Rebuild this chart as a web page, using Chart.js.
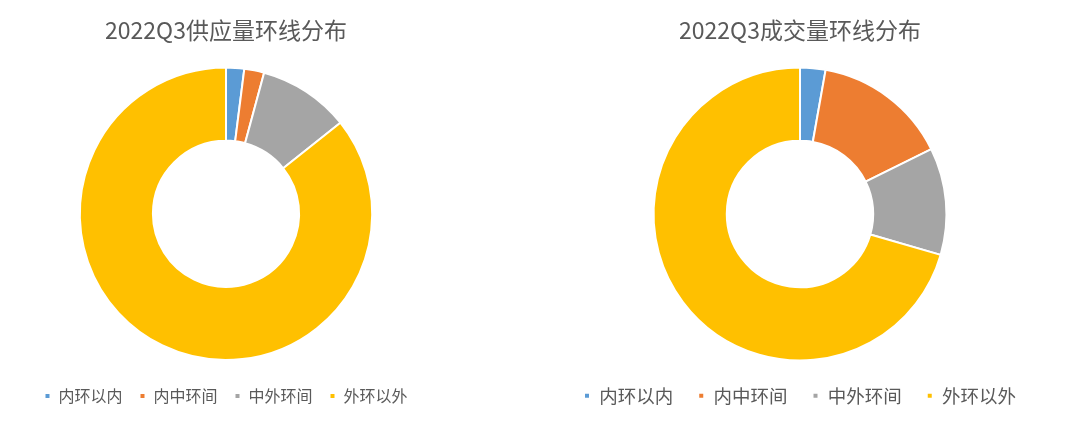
<!DOCTYPE html>
<html>
<head>
<meta charset="utf-8">
<script src="https://cdn.jsdelivr.net/npm/chart.js@4"></script>
<style>
  html, body { margin: 0; padding: 0; background: #fff; }
  #wrap { position: relative; width: 1080px; height: 421px; }
  .box { position: absolute; top: 0; height: 421px; }
  #left { left: 0; width: 452px; }
  #right { left: 540px; width: 520px; }
</style>
</head>
<body>
<div id="wrap">
  <div class="box" id="left"><canvas id="supply"></canvas></div>
  <div class="box" id="right"><canvas id="deal"></canvas></div>
</div>
<script>
/*_____________________DATA____________________*/
const rings = ['内环以内', '内中环间', '中外环间', '外环以外'];
const supplyShare = [2.0, 2.2, 10.1, 85.7];
const dealShare = [2.8, 14.9, 11.8, 70.5];
const ringColors = ['#5B9BD5', '#ED7D31', '#A5A5A5', '#FFC000'];

const FONT = '"Noto Sans CJK SC", "Noto Sans", sans-serif';

// spacer: an empty legend title pushes legend items further down
function ringChart(id, title, values, legendSize, legendGap, spacer, bottomPad) {
  new Chart(document.getElementById(id), {
    type: 'doughnut',
    data: {
      labels: rings,
      datasets: [{
        data: values,
        backgroundColor: ringColors,
        borderColor: '#fff',
        borderWidth: 2
      }]
    },
    options: {
      responsive: true,
      maintainAspectRatio: false,
      animation: false,
      cutout: '50%',
      layout: { padding: { top: 0, bottom: bottomPad } },
      plugins: {
        tooltip: { enabled: false },
        title: {
          display: true,
          text: title,
          color: '#595959',
          font: { family: FONT, size: 23, weight: 'normal' },
          padding: { top: 16, bottom: 23 }
        },
        legend: {
          position: 'bottom',
          title: {
            display: spacer > 0,
            text: ' ',
            padding: 0,
            font: { size: spacer, lineHeight: 1 }
          },
          labels: {
            color: '#595959',
            font: { family: FONT, size: legendSize },
            boxWidth: 6,
            boxHeight: 6,
            padding: legendGap
          }
        }
      }
    }
  });
}

ringChart('supply', '2022Q3供应量环线分布', supplyShare, 16, 17, 10, 7);
ringChart('deal', '2022Q3成交量环线分布', dealShare, 18.5, 25, 0, 6);
</script>
</body>
</html>
